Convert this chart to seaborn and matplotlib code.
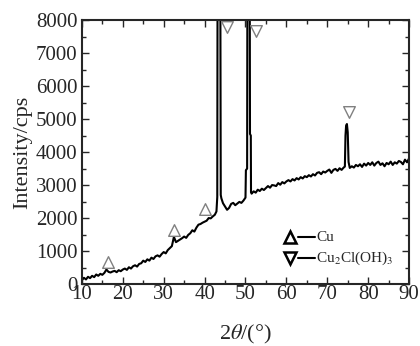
import numpy as np
import pandas as pd
import matplotlib
matplotlib.use('Agg')
import matplotlib.pyplot as plt
import seaborn as sns
from matplotlib.ticker import MultipleLocator

# XRD pattern (2theta in degrees, intensity in cps)
two_theta = [10.0, 10.5, 11.0, 11.5, 12.0, 12.5, 13.0, 13.5, 14.0, 14.5,
             15.0, 15.5, 16.0, 16.5, 17.0, 17.5, 18.0, 18.5, 19.0, 19.5,
             20.0, 20.5, 21.0, 21.5, 22.0, 22.5, 23.0, 23.5, 24.0, 24.5,
             25.0, 25.5, 26.0, 26.5, 27.0, 27.5, 28.0, 28.5, 29.0, 29.5,
             30.0, 30.5, 31.0, 31.5, 32.0, 32.5, 33.0, 33.5, 34.0, 34.5,
             35.0, 35.5, 36.0, 36.5, 37.0, 37.5, 38.0, 38.5, 39.0, 39.5,
             40.0, 40.5, 41.0, 41.5, 42.0, 42.5, 42.9, 43.1, 43.2, 43.8, 43.95, 44.1, 44.5,
             45.0, 45.5, 46.0, 46.5, 47.0, 47.5, 48.0, 48.5, 49.0, 49.5,
             50.0, 50.1, 50.4, 50.5, 51.0, 51.1, 51.3, 51.35, 51.5, 52.0, 52.5, 53.0, 53.5, 54.0, 54.5,
             55.0, 55.5, 56.0, 56.5, 57.0, 57.5, 58.0, 58.5, 59.0, 59.5,
             60.0, 60.5, 61.0, 61.5, 62.0, 62.5, 63.0, 63.5, 64.0, 64.5,
             65.0, 65.5, 66.0, 66.5, 67.0, 67.5, 68.0, 68.5, 69.0, 69.5,
             70.0, 70.5, 71.0, 71.5, 72.0, 72.5, 73.0, 73.5, 74.0,
             74.3, 74.45, 74.6, 74.8, 75.0, 75.2, 75.5,
             76.0, 76.5, 77.0, 77.5, 78.0, 78.5, 79.0, 79.5,
             80.0, 80.5, 81.0, 81.5, 82.0, 82.5, 83.0, 83.5, 84.0, 84.5,
             85.0, 85.5, 86.0, 86.5, 87.0, 87.5, 88.0, 88.5, 89.0, 89.5, 90.0]
intensity = [120, 190, 140, 220, 180, 250, 210, 290, 250, 310,
             280, 340, 440, 370, 350, 380, 400, 360, 420, 390,
             440, 470, 430, 510, 470, 540, 570, 530, 610, 630,
             710, 670, 750, 710, 800, 760, 840, 870, 830, 910,
             970, 930, 1030, 1090, 1150, 1430, 1270, 1310, 1350, 1390,
             1440, 1400, 1490, 1540, 1630, 1590, 1710, 1800, 1820, 1860,
             1890, 1920, 2000, 1990, 2050, 2100, 2200, 2640, 12000, 12000, 2700, 2600, 2450,
             2350, 2250, 2310, 2430, 2460, 2390, 2440, 2490, 2460, 2530,
             2620, 3450, 3500, 12000, 12000, 4550, 4500, 2780, 2740, 2810, 2770, 2860, 2820, 2890, 2850,
             2910, 2970, 2920, 3000, 2990, 2970, 3060, 3010, 3090, 3050,
             3110, 3150, 3110, 3180, 3140, 3210, 3170, 3240, 3200, 3270,
             3240, 3300, 3260, 3330, 3290, 3370, 3390, 3330, 3410, 3380,
             3430, 3470, 3370, 3460, 3490, 3430, 3510, 3460, 3530,
             3560, 4500, 4800, 4850, 4600, 3700, 3520,
             3570, 3530, 3610, 3570, 3630, 3550, 3650, 3590,
             3670, 3610, 3690, 3590, 3670, 3710, 3610, 3660, 3570, 3670,
             3630, 3710, 3610, 3690, 3650, 3730, 3700, 3630, 3770, 3690, 3810]

# phase markers
cu_x = [16.3, 32.6, 40.1]
cu_y = [680, 1640, 2260]
cucl_x = [45.4, 52.5, 75.2]
cucl_y = [7790, 7670, 5220]

sns.set_style('ticks')
plt.rcParams['font.family'] = ['Liberation Serif', 'DejaVu Serif']
plt.rcParams['mathtext.fontset'] = 'stix'

fig = plt.figure(figsize=(4.2, 3.46), dpi=100)
ax = fig.add_axes([0.195, 0.179, 0.779, 0.763])

df = pd.DataFrame({'two_theta': two_theta, 'intensity': intensity})
sns.lineplot(data=df, x='two_theta', y='intensity', ax=ax, color='black',
             linewidth=1.5, estimator=None)
sns.scatterplot(x=cu_x, y=cu_y, ax=ax, marker='^', s=70, facecolor='white',
                edgecolor='#808080', linewidth=1.0, zorder=3)
sns.scatterplot(x=cucl_x, y=cucl_y, ax=ax, marker='v', s=70, facecolor='white',
                edgecolor='#808080', linewidth=1.0, zorder=3)

ax.set_xlim(10, 90)
ax.set_ylim(0, 8000)
ax.xaxis.set_major_locator(MultipleLocator(10))
ax.xaxis.set_minor_locator(MultipleLocator(5))
ax.yaxis.set_major_locator(MultipleLocator(1000))
ax.yaxis.set_minor_locator(MultipleLocator(500))
ax.tick_params(which='both', direction='in', top=True, right=True,
               labelsize=15, width=1.0)
ax.tick_params(axis='x', pad=1)
ax.tick_params(axis='y', pad=3)
ax.tick_params(which='major', length=5)
ax.tick_params(which='minor', length=3)
for sp in ax.spines.values():
    sp.set_linewidth(1.5)

ax.set_xlabel(r'2$\theta$/(°)', fontsize=16, labelpad=13)
ax.set_ylabel('Intensity/cps', fontsize=16, labelpad=3)

# hand-made legend
ax.plot([0.636], [0.178], transform=ax.transAxes, marker='^', ms=9,
        mfc='white', mec='black', mew=1.8, ls='none')
ax.plot([0.66, 0.713], [0.178, 0.178], transform=ax.transAxes, color='black', lw=1.5)
ax.text(0.716, 0.178, 'Cu', transform=ax.transAxes, fontsize=11, va='center')
ax.plot([0.636], [0.098], transform=ax.transAxes, marker='v', ms=9,
        mfc='white', mec='black', mew=1.8, ls='none')
ax.plot([0.66, 0.713], [0.098, 0.098], transform=ax.transAxes, color='black', lw=1.5)
ax.text(0.716, 0.098, r'Cu$_2$Cl(OH)$_3$', transform=ax.transAxes, fontsize=11, va='center')

fig.savefig('out.png', dpi=100)
